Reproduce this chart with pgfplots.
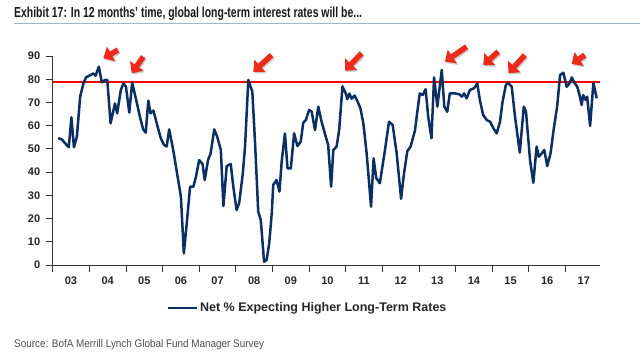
\documentclass[border=0pt]{standalone}
\usepackage{fontspec}
\setmainfont{Liberation Sans}
\usepackage{pgfplots}
\usepackage{pgfplotstable}
\pgfplotsset{compat=1.18}
\usetikzlibrary{arrows.meta}
\definecolor{navy}{HTML}{0B2E63}
\definecolor{arrred}{HTML}{EE2A1B}
\definecolor{ulblue}{HTML}{9FB5D1}
\newcommand{\myarrow}[4]{%
  \draw[black!40, opacity=0.5, line width=5.5pt, -{Triangle[length=9pt,width=16pt]}]
    ([xshift=1pt,yshift=-1.5pt]axis cs:#1,#2) -- ([xshift=1pt,yshift=-1.5pt]axis cs:#3,#4);
  \draw[arrred, line width=5.5pt, -{Triangle[length=9pt,width=16pt]}]
    (axis cs:#1,#2) -- (axis cs:#3,#4);}
\pgfplotstableread{
x y
2003.15 54.6
2003.25 54.1
2003.34 52.4
2003.44 50.7
2003.51 63.6
2003.58 50.7
2003.66 55.3
2003.75 72.5
2003.84 78.2
2003.91 80.8
2004.02 81.7
2004.11 82.5
2004.17 81.5
2004.26 85.4
2004.34 78.7
2004.43 79.7
2004.49 79.7
2004.58 61.0
2004.70 69.6
2004.76 65.3
2004.86 75.4
2004.93 78.2
2005.00 76.8
2005.09 65.6
2005.17 78.5
2005.29 70.3
2005.38 63.9
2005.47 58.4
2005.54 57.0
2005.61 70.8
2005.67 65.3
2005.75 66.5
2005.84 61.0
2005.95 54.6
2006.04 51.7
2006.11 51.0
2006.18 58.4
2006.29 49.5
2006.38 40.9
2006.50 29.4
2006.58 5.0
2006.66 18.0
2006.75 33.7
2006.84 33.7
2006.91 38.0
2007.00 45.2
2007.09 43.5
2007.15 36.6
2007.24 45.2
2007.31 48.0
2007.41 58.4
2007.49 55.3
2007.59 49.5
2007.66 25.4
2007.75 42.6
2007.86 43.5
2007.93 33.7
2008.02 23.7
2008.09 26.6
2008.19 39.5
2008.25 51.0
2008.34 79.7
2008.45 74.6
2008.52 53.8
2008.61 23.0
2008.68 19.4
2008.77 1.4
2008.84 2.2
2008.91 9.3
2008.98 22.3
2009.02 34.5
2009.11 36.6
2009.19 31.6
2009.25 44.5
2009.34 56.7
2009.41 41.6
2009.50 41.6
2009.59 56.7
2009.68 51.2
2009.77 53.1
2009.84 61.3
2009.91 62.4
2010.00 66.8
2010.07 66.0
2010.16 58.1
2010.25 68.2
2010.34 61.7
2010.48 53.8
2010.52 51.7
2010.60 33.7
2010.66 49.5
2010.75 51.0
2010.82 58.1
2010.91 76.9
2011.00 73.9
2011.04 71.4
2011.10 73.8
2011.16 71.6
2011.24 73.0
2011.32 70.5
2011.40 67.5
2011.48 61.0
2011.57 48.1
2011.69 25.1
2011.76 45.9
2011.83 37.5
2011.93 35.2
2012.07 49.5
2012.18 61.7
2012.28 60.3
2012.39 48.1
2012.51 28.5
2012.59 39.5
2012.68 49.0
2012.77 51.0
2012.89 58.0
2012.95 65.6
2013.02 73.9
2013.10 73.2
2013.18 75.7
2013.25 63.9
2013.34 54.6
2013.41 80.8
2013.50 68.2
2013.62 84.0
2013.69 68.2
2013.77 66.0
2013.84 73.9
2013.98 73.9
2014.10 73.5
2014.17 72.5
2014.23 73.9
2014.30 71.8
2014.39 75.4
2014.50 76.1
2014.59 78.2
2014.66 71.1
2014.75 64.6
2014.85 62.4
2014.94 61.7
2015.03 58.9
2015.12 56.7
2015.21 61.7
2015.28 70.3
2015.37 77.5
2015.43 78.5
2015.53 76.8
2015.62 63.9
2015.75 48.4
2015.86 68.2
2015.92 66.0
2016.03 45.2
2016.12 35.4
2016.21 51.0
2016.27 46.6
2016.35 48.1
2016.42 49.5
2016.50 42.6
2016.59 48.1
2016.68 58.9
2016.77 68.2
2016.85 81.8
2016.94 82.8
2017.03 76.8
2017.10 78.0
2017.17 80.8
2017.24 78.5
2017.32 76.8
2017.37 73.9
2017.44 68.9
2017.48 73.2
2017.55 71.1
2017.59 72.5
2017.67 59.9
2017.76 78.5
2017.85 71.8
}\datatable
\pgfplotstableread{
x y
2003 79
2017.94 79
}\reftable
\begin{document}
\begin{tikzpicture}
\path[use as bounding box] (0pt,0pt) rectangle (640pt,360pt);
\node[anchor=west, inner sep=0pt, text=black!90] at (14pt,346pt)
  {\scalebox{0.72}[1]{\fontsize{14.5}{16}\selectfont\bfseries Exhibit 17: In 12 months’ time, global long-term interest rates will be...}};
\draw[ulblue, line width=1.2pt] (14pt,336.5pt) -- (640pt,336.5pt);
\node[anchor=west, inner sep=0pt, text=black!70] at (14pt,15pt)
  {\scalebox{0.9}[1]{\fontsize{11}{13}\selectfont Source: BofA Merrill Lynch Global Fund Manager Survey}};
\begin{axis}[
  at={(52.7pt,95pt)}, anchor=south west,
  scale only axis, width=547.3pt, height=209pt,
  xmin=2003, xmax=2017.94, ymin=0, ymax=90,
  axis lines=left,
  axis line style={-, line width=0.9pt, black!80},
  tick align=outside,
  major tick length=7pt,
  tick style={line width=0.9pt, black!80},
  xtick={2003,...,2017},
  xticklabels={03,04,05,06,07,08,09,10,11,12,13,14,15,16,17},
  xticklabel style={xshift=18.3pt, yshift=-1pt},
  ytick={0,10,...,90},
  yticklabel style={xshift=-2pt},
  ticklabel style={font=\fontsize{11}{13}\selectfont\bfseries, text=black!85},
  /pgf/number format/assume math mode=true,
  clip=false,
  legend style={at={(axis description cs:0.4656,-0.2057)}, anchor=center,
    draw=none, fill=none, font=\fontsize{12.5}{14}\selectfont\bfseries,
    text=black!85},
  legend image code/.code={\draw[#1] (0pt,0pt) -- (29pt,0pt);},
]
\addplot[color=red, draw=red, line width=2pt, forget plot, mark=none] table[x=x,y=y] {\reftable};
\addplot[navy, line width=2.5pt, line join=round] table[x=x,y=y] {\datatable};
\addlegendentry{Net \% Expecting Higher Long-Term Rates}
\myarrow{2004.782}{92.6}{2004.381}{89.0}
\myarrow{2005.473}{89.7}{2005.156}{82.6}
\myarrow{2008.977}{90.4}{2008.475}{83.2}
\myarrow{2011.433}{91.2}{2010.978}{83.7}
\myarrow{2014.299}{94.0}{2013.707}{87.6}
\myarrow{2015.162}{91.9}{2014.752}{86.1}
\myarrow{2015.890}{90.4}{2015.435}{82.6}
\myarrow{2017.529}{90.4}{2017.166}{86.6}
\end{axis}
\end{tikzpicture}
\end{document}
